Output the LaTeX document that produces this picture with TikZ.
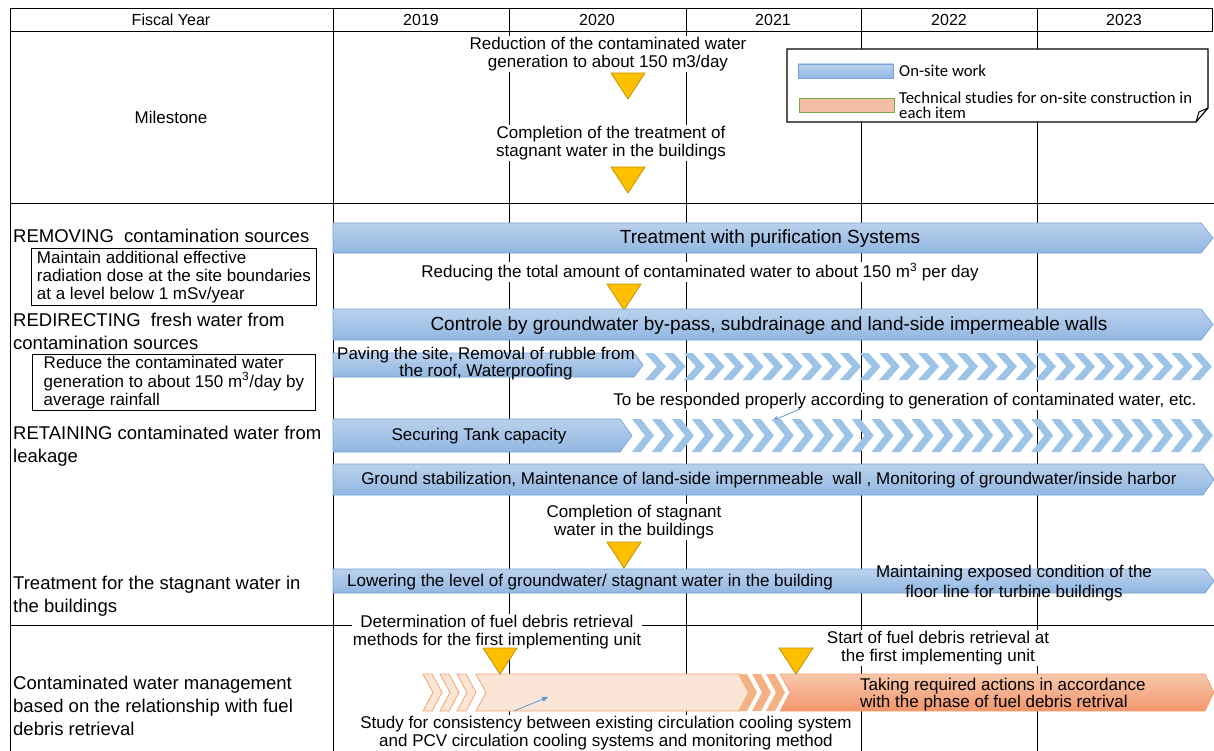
\documentclass[tikz,border=0pt]{standalone}
\usepackage{fontspec}
\setmainfont{Liberation Sans}
\newfontfamily\legendfont{Carlito}
\usetikzlibrary{calc}
\usetikzlibrary{arrows.meta}

\definecolor{barTop}{RGB}{186,209,237}
\definecolor{barBot}{RGB}{146,183,226}
\definecolor{barLine}{RGB}{118,162,214}
\definecolor{chevBlue}{RGB}{157,195,230}
\definecolor{peach}{RGB}{251,229,214}
\definecolor{peachLine}{RGB}{244,162,112}
\definecolor{orangeTop}{RGB}{248,200,172}
\definecolor{orangeBot}{RGB}{242,150,108}
\definecolor{orangeMid}{RGB}{244,177,131}
\definecolor{msGold}{RGB}{255,192,0}
\definecolor{msLine}{RGB}{191,144,0}
\definecolor{legOrange}{RGB}{246,190,165}
\definecolor{legGreen}{RGB}{112,173,71}
\definecolor{noteBlue}{RGB}{91,155,213}

\tikzset{
  grid line/.style={line width=0.9pt, black},
  head text/.style={font=\fontsize{16}{18}\selectfont, inner sep=1pt},
  body text/.style={font=\fontsize{17}{18.5}\selectfont, align=center, inner sep=1pt},
  bar text/.style={font=\fontsize{19}{21}\selectfont, align=center, inner sep=1pt},
  label text/.style={font=\fontsize{18.5}{23}\selectfont, align=left, anchor=base west, inner sep=0pt},
  note box/.style={draw, line width=0.9pt, font=\fontsize{17}{18.3}\selectfont, align=left,
    anchor=north west, inner xsep=4pt, inner ysep=2pt, minimum height=57pt},
  blank/.style={fill=white},
  blue bar/.style={draw=barLine, line width=0.7pt, top color=barTop, bottom color=barBot},
  peach bar/.style={draw=peachLine, line width=0.8pt, fill=peach},
  orange bar/.style={draw=peachLine, line width=0.7pt, top color=orangeTop, bottom color=orangeBot},
  ms mark/.style={fill=msGold, draw=msLine, line width=0.8pt},
  note arrow/.style={noteBlue, line width=0.8pt, -{Triangle[length=6pt,width=5pt]}},
  legend frame/.style={draw, line width=1.2pt, fill=white},
  legend text/.style={font=\legendfont\fontsize{16.7}{15}\selectfont, align=left, anchor=west, inner sep=0pt},
}

% milestone mark: x, top y
\newcommand\msmark[2]{\draw[ms mark] ({#1-17},#2) -- ({#1+17},#2) -- (#1,{#2+26}) -- cycle;}
% bar with a point: style, x left, x body end, x tip, y top, y bottom
\newcommand\homebar[6]{\draw[#1] (#2,#5) -- (#3,#5) -- (#4,{(#5+#6)/2}) -- (#3,#6) -- (#2,#6) -- cycle;}

\begin{document}
\begin{tikzpicture}[x=1pt,y=-1pt]
    \useasboundingbox (0,0) rectangle (1214,751);

    %%%%%%%%%%%%%%%%%%%%%%%%%%
    % Draw table
    %%%%%%%%%%%%%%%%%%%%%%%%%%
    \draw[grid line] (10,8) rectangle (1212,31);
    \draw[grid line] (10,31) -- (10,751);
    \draw[grid line] (333,8) -- (333,751);
    \foreach \xl in {509,686,861,1037}
        \draw[grid line] (\xl,8) -- (\xl,751);
    \draw[grid line] (10,203) -- (1214,203);
    \draw[grid line] (10,625) -- (1214,625);

    \node[head text] (fiscal) at (171,20) {Fiscal Year};
    \node[head text] (fy2019) at (421,20) {2019};
    \node[head text] (fy2020) at (597,20) {2020};
    \node[head text] (fy2021) at (773,20) {2021};
    \node[head text] (fy2022) at (949,20) {2022};
    \node[head text] (fy2023) at (1124,20) {2023};

    %%%%%%%%%%%%%%%%%%%%%%%%%%
    % Milestone row
    %%%%%%%%%%%%%%%%%%%%%%%%%%
    \node[body text] (milestone) at (171,117) {Milestone};
    \node[body text, blank] (msReduce) at (608,54) {Reduction of the contaminated water\\generation to about 150 m3/day};
    \msmark{628}{73}
    \node[body text, blank] (msStagnant) at (611,143) {Completion of the treatment of\\stagnant water in the buildings};
    \msmark{628}{167}

    % legend
    \draw[legend frame] (787,49) -- (1208,49) -- (1208,108) -- (1196,122) -- (787,122) -- cycle;
    \draw[line width=1pt] (1208,108) -- (1199,112) -- (1196,122);
    \draw[blue bar] (798,64) rectangle (893,78);
    \draw[draw=legGreen, fill=legOrange, line width=0.7pt] (799,98) rectangle (894,112);
    \node[legend text] (legOnsite) at (899,71) {On-site work};
    \node[legend text] (legStudy) at (899,105) {Technical studies for on-site construction in\\each item};

    %%%%%%%%%%%%%%%%%%%%%%%%%%
    % REMOVING / REDIRECTING / RETAINING
    %%%%%%%%%%%%%%%%%%%%%%%%%%
    \node[label text] (removing) at (13,242) {REMOVING\ \ contamination sources};
    \node[note box, minimum width=285pt] (doseBox) at (31,248) {Maintain additional effective\\radiation dose at the site boundaries\\at a level below 1 mSv/year};
    % (base of a label = its last line)
    \node[label text] (redirecting) at (13,349) {REDIRECTING\ \ fresh water from\\contamination sources};
    \node[note box, minimum width=283pt, minimum height=56pt] (rainBox) at (32,354) {Reduce the contaminated water\\generation to about 150 m\textsuperscript{3}/day by\\average rainfall};
    \node[label text] (retaining) at (13,462) {RETAINING contaminated water from\\leakage};

    % treatment with purification systems
    \homebar{blue bar}{333}{1201}{1213}{223}{253}
    \node[bar text] (purify) at (770,239) {Treatment with purification Systems};
    \node[body text, blank] (reduceTotal) at (700,272) {Reducing the total amount of contaminated water to about 150 m\textsuperscript{3} per day};
    \msmark{624}{284}

    % groundwater by-pass
    \homebar{blue bar}{333}{1201}{1213}{309}{340}
    \node[bar text] (bypass) at (769,326) {Controle by groundwater by-pass, subdrainage and land-side impermeable walls};

    % paving
    \foreach \i in {0,...,28}{
        \pgfmathsetmacro\cx{645+19.5*\i}
        \fill[chevBlue] (\cx,353) -- ++(9,0) -- ++(12,13.5) -- ++(-12,13.5) -- ++(-9,0) -- ++(12,-13.5) -- cycle;
    }
    \homebar{blue bar}{333}{634}{643}{353}{377}
    \node[body text, font=\fontsize{17}{15}\selectfont] (paving) at (486,364) {Paving the site, Removal of rubble from\\the roof, Waterproofing};

    \node[body text, blank] (respond) at (905,401) {To be responded properly according to generation of contaminated water, etc.};
    \coordinate (respondFrom) at (800,409);
    \coordinate (respondTip) at (772,421);
    \draw[note arrow] (respondFrom) -- (respondTip);

    % tank capacity
    \foreach \i in {0,...,28}{
        \pgfmathsetmacro\cx{632+19.96*\i}
        \fill[chevBlue] (\cx,419) -- ++(9,0) -- ++(13,16.5) -- ++(-13,16.5) -- ++(-9,0) -- ++(13,-16.5) -- cycle;
    }
    \homebar{blue bar}{333}{620}{632}{419}{452}
    \node[body text] (tank) at (479,436) {Securing Tank capacity};

    % ground stabilization
    \homebar{blue bar}{333}{1203}{1214}{464}{495}
    \node[body text] (stabilize) at (769,480) {Ground stabilization,  Maintenance of land-side impernmeable\ \ wall , Monitoring of groundwater/inside harbor};

    %%%%%%%%%%%%%%%%%%%%%%%%%%
    % Stagnant water
    %%%%%%%%%%%%%%%%%%%%%%%%%%
    \node[body text, blank] (doneStagnant) at (634,522) {Completion of stagnant\\water in the buildings};
    \msmark{624}{542}
    \node[label text] (stagnant) at (13,612) {Treatment for the stagnant water in\\the buildings};
    \homebar{blue bar}{333}{1205}{1214}{569}{593}
    \node[body text] (lowering) at (590,582) {Lowering the level of groundwater/ stagnant water in the building};
    \node[body text, font=\fontsize{17}{20}\selectfont] (exposed) at (1014,583) {Maintaining exposed condition of the\\floor line for turbine buildings};

    %%%%%%%%%%%%%%%%%%%%%%%%%%
    % Fuel debris retrieval
    %%%%%%%%%%%%%%%%%%%%%%%%%%
    \node[label text] (debris) at (13,735) {Contaminated water management\\based on the relationship with fuel\\debris retrieval};
    \node[body text, blank] (determine) at (497,632) {Determination of fuel debris retrieval\\methods for the first implementing unit};
    \node[body text, blank] (startRetrieval) at (938,648) {Start of fuel debris retrieval at\\the first implementing unit};

    \foreach \cx in {423,440,457}
        \draw[peach bar] (\cx,674) -- ++(9,0) -- ++(10,18.5) -- ++(-10,18.5) -- ++(-9,0) -- ++(10,-18.5) -- cycle;
    \draw[peach bar] (476,674) -- (740,674) -- (750,692.5) -- (740,711) -- (476,711) -- (486,692.5) -- cycle;
    \foreach \cx in {738,752,766}
        \fill[orangeMid] (\cx,674) -- ++(9,0) -- ++(10,18.5) -- ++(-10,18.5) -- ++(-9,0) -- ++(10,-18.5) -- cycle;
    \draw[orange bar] (780,674) -- (1205,674) -- (1214,692.5) -- (1205,711) -- (780,711) -- (790,692.5) -- cycle;
    \node[body text, font=\fontsize{17}{15}\selectfont, align=left, anchor=west] (requiredActions) at (859,695) {Taking required actions in accordance\\with the phase of fuel debris retrival};

    \msmark{500}{648}
    \msmark{796}{648}

    \coordinate (studyFrom) at (514,711);
    \coordinate (studyTip) at (548,697);
    \draw[note arrow] (studyFrom) -- (studyTip);
    \node[body text, blank] (consistency) at (606,733) {Study for consistency between existing circulation cooling system\\and PCV circulation cooling systems and monitoring method};
\end{tikzpicture}
\end{document}
